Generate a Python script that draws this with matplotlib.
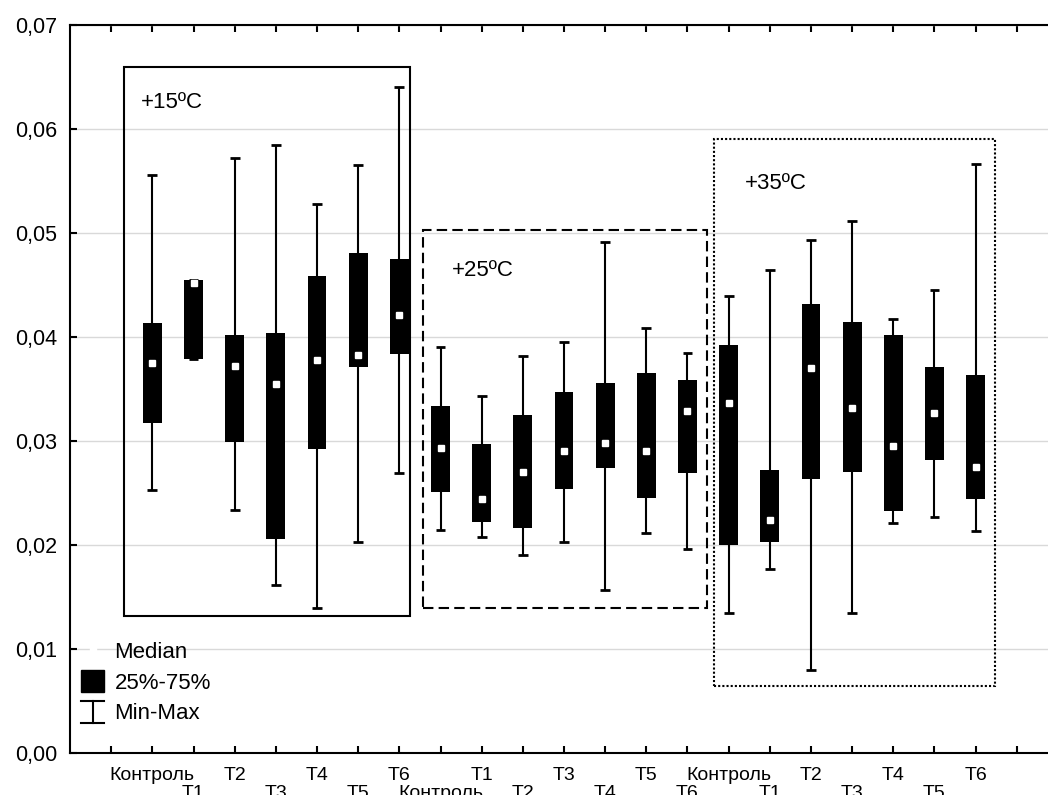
import matplotlib
matplotlib.use("Agg")
import matplotlib.pyplot as plt
from matplotlib.patches import Rectangle, Patch
from matplotlib.lines import Line2D
from matplotlib.legend_handler import HandlerBase
from matplotlib.ticker import FuncFormatter

plt.rcParams['font.family'] = ['Liberation Sans', 'DejaVu Sans']

# data
names = ['Контроль', 'T1', 'T2', 'T3', 'T4', 'T5', 'T6'] * 3
group_labels = ['+15ºC', '+25ºC', '+35ºC']

mins = [0.0253, 0.0379, 0.0234, 0.0162, 0.0139, 0.0203, 0.0269,
        0.0214, 0.0208, 0.0190, 0.0203, 0.0157, 0.0212, 0.0196,
        0.0135, 0.0177, 0.0080, 0.0135, 0.0221, 0.0227, 0.0213]
q1 = [0.0317, 0.0379, 0.0299, 0.0206, 0.0292, 0.0371, 0.0384,
      0.0251, 0.0222, 0.0216, 0.0254, 0.0274, 0.0245, 0.0269,
      0.0200, 0.0203, 0.0263, 0.0270, 0.0233, 0.0282, 0.0244]
med = [0.0375, 0.0452, 0.0372, 0.0355, 0.0378, 0.0383, 0.0421,
       0.0293, 0.0244, 0.0270, 0.0290, 0.0298, 0.0290, 0.0329,
       0.0337, 0.0224, 0.0370, 0.0332, 0.0295, 0.0327, 0.0275]
q3 = [0.0413, 0.0455, 0.0402, 0.0404, 0.0459, 0.0481, 0.0475,
      0.0334, 0.0297, 0.0325, 0.0347, 0.0356, 0.0365, 0.0359,
      0.0392, 0.0272, 0.0432, 0.0414, 0.0402, 0.0371, 0.0363]
maxs = [0.0556, 0.0455, 0.0572, 0.0585, 0.0528, 0.0565, 0.0640,
        0.0390, 0.0343, 0.0382, 0.0395, 0.0491, 0.0409, 0.0385,
        0.0439, 0.0464, 0.0493, 0.0512, 0.0417, 0.0445, 0.0566]


class IHandler(HandlerBase):
    '''Draws the I-shaped min-max symbol in the legend'''
    def create_artists(self, legend, orig_handle, xdescent, ydescent,
                       width, height, fontsize, trans):
        cx = width / 2 - xdescent
        y0 = -ydescent
        y1 = height - ydescent
        x0, x1 = -xdescent, width - xdescent
        arts = [Line2D([cx, cx], [y0, y1]),
                Line2D([x0, x1], [y0, y0]),
                Line2D([x0, x1], [y1, y1])]
        for a in arts:
            a.set_color('black')
            a.set_linewidth(1.5)
            a.set_transform(trans)
        return arts


fig = plt.figure(figsize=(10.48, 7.95), dpi=100)
ax = fig.add_axes([70 / 1048, 1 - 753 / 795, 988 / 1048, 728 / 795])

pos = list(range(1, len(names) + 1))
ax.vlines(pos, mins, maxs, color='black', lw=1.5, zorder=2)
ax.hlines(mins, [p - 0.12 for p in pos], [p + 0.12 for p in pos], color='black', lw=2, zorder=2)
ax.hlines(maxs, [p - 0.12 for p in pos], [p + 0.12 for p in pos], color='black', lw=2, zorder=2)
ax.bar(pos, [b - a for a, b in zip(q1, q3)], bottom=q1, width=0.46,
       color='black', zorder=3)
ax.plot(pos, med, ls='', marker='s', ms=4.5, mfc='white', mec='white', zorder=4)

# group frames
ax.add_patch(Rectangle((0.32, 0.0132), 6.94, 0.0528, fill=False, ec='black', lw=1.5, zorder=5))
ax.add_patch(Rectangle((7.57, 0.0139), 6.90, 0.0364, fill=False, ec='black', lw=1.5,
                       ls=(0, (5, 2.5)), zorder=5))
ax.add_patch(Rectangle((14.64, 0.0064), 6.82, 0.0526, fill=False, ec='black', lw=1.5,
                       ls=(0, (1, 1)), zorder=5))
ax.text(0.72, 0.0625, group_labels[0], fontsize=16, va='center')
ax.text(8.28, 0.0464, group_labels[1], fontsize=16, va='center')
ax.text(15.4, 0.0548, group_labels[2], fontsize=16, va='center')

ax.set_xlim(-1, 23)
ax.set_ylim(0, 0.07)
ax.set_yticks([i / 100 for i in range(8)])
ax.yaxis.set_major_formatter(FuncFormatter(lambda v, p: f'{v:.2f}'.replace('.', ',')))
ax.set_xticks(range(0, 23))
ax.set_xticklabels([''] + [n if i % 2 == 0 else '\n' + n for i, n in enumerate(names)] + [''],
                   linespacing=1.12)
ax.grid(axis='y', color='#d9d9d9', lw=1)
ax.set_axisbelow(True)
ax.tick_params(direction='in', length=5, width=1.5, top=True, right=True, labelsize=14)
ax.tick_params(axis='x', pad=10)
ax.tick_params(axis='y', pad=9, labelsize=15.5)
for s in ax.spines.values():
    s.set_linewidth(1.5)

handles = [Line2D([], [], ls='', marker='s', ms=5, mfc='white', mec='white'),
           Patch(facecolor='black', edgecolor='black'),
           'minmax']
leg = ax.legend(handles, ['Median', '25%-75%', 'Min-Max'], loc='lower left',
                bbox_to_anchor=(0.0, 0.024), frameon=False, fontsize=16,
                handlelength=1.05, handleheight=1.15, handletextpad=0.45,
                labelspacing=0.33, borderaxespad=0.2, borderpad=0.3,
                handler_map={str: IHandler()})

fig.savefig('out.png', dpi=100)
